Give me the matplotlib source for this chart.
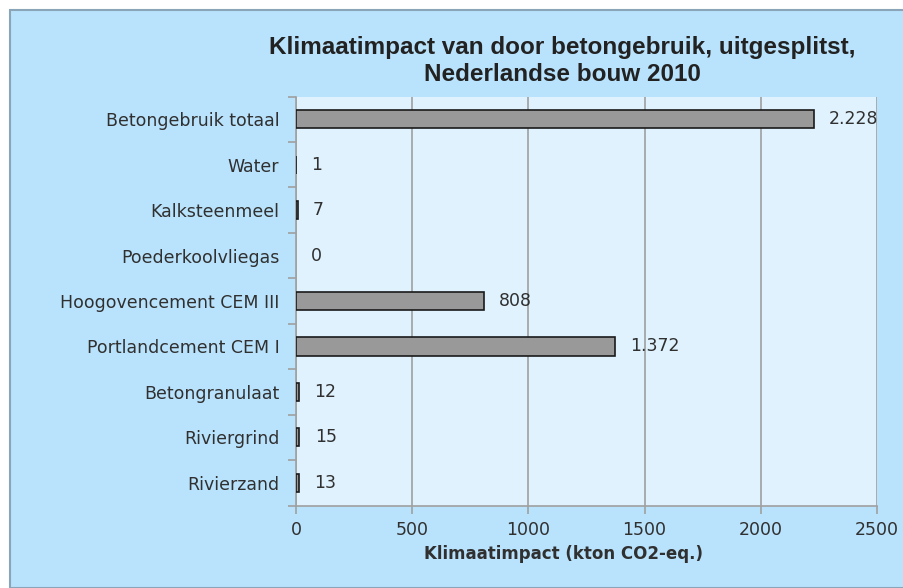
import numpy as np
import matplotlib.pyplot as plt
from matplotlib.patches import Rectangle
from matplotlib.ticker import FixedLocator

categories = ['Betongebruik totaal', 'Water', 'Kalksteenmeel', 'Poederkoolvliegas',
              'Hoogovencement CEM III', 'Portlandcement CEM I', 'Betongranulaat',
              'Riviergrind', 'Rivierzand']
values = [2228, 1, 7, 0, 808, 1372, 12, 15, 13]
xticks = [0, 500, 1000, 1500, 2000, 2500]

title = 'Klimaatimpact van door betongebruik, uitgesplitst,\nNederlandse bouw 2010'
xlabel = 'Klimaatimpact (kton CO2-eq.)'

frame_bg = '#B9E3FC'
plot_bg = '#E0F2FE'
grid_col = '#A0A0A0'
txt_col = '#303030'

fig = plt.figure(figsize=(9.04, 5.88), dpi=100)
fig.patch.set_facecolor('white')

# outer chart frame
W, H = 904, 588
fig.patches.append(Rectangle((10 / W, 0), 1.0, 1 - 10 / H, transform=fig.transFigure,
                             facecolor=frame_bg, edgecolor='#8AA4B8', linewidth=1.5,
                             zorder=-5))

ax = fig.add_axes([296 / W, 1 - 505.5 / H, (877 - 296) / W, (505.5 - 96.5) / H])
ax.set_zorder(2)
ax.set_facecolor(plot_bg)

y = np.arange(len(categories))
bars = ax.barh(y, values, height=0.4, color='#999999', edgecolor='#1a1a1a', linewidth=1.2,
               zorder=3)
for b, v in zip(bars, values):
    if v == 0:
        b.set_visible(False)

ax.set_xlim(0, 2500)
ax.set_ylim(len(categories) - 0.5, -0.5)
ax.xaxis.set_major_locator(FixedLocator(xticks))
ax.set_xticklabels([str(t) for t in xticks])
ax.set_yticks(y)
ax.set_yticklabels(categories)
ax.set_yticks(np.arange(len(categories) + 1) - 0.5, minor=True)

ax.grid(axis='x', color=grid_col, linewidth=1.2, zorder=1)
ax.tick_params(axis='y', which='major', length=0, pad=12, labelsize=12.5, labelcolor=txt_col)
ax.tick_params(axis='y', which='minor', length=6, color=grid_col, width=1.2)
ax.tick_params(axis='x', length=6, color=grid_col, width=1.2, pad=5, labelsize=12.5,
               labelcolor=txt_col)

for s in ['top', 'right']:
    ax.spines[s].set_visible(False)
for s in ['left', 'bottom']:
    ax.spines[s].set_color(grid_col)
    ax.spines[s].set_linewidth(1.2)

for yi, v in zip(y, values):
    lab = f'{v:,}'.replace(',', '.')
    ax.annotate(lab, (v, yi), xytext=(11, 0), textcoords='offset points',
                va='center', ha='left', fontsize=12.5, color=txt_col, zorder=4,
                annotation_clip=False)

ax.set_xlabel(xlabel, fontsize=12, fontweight='bold', color=txt_col)
ax.xaxis.set_label_coords(0.46, -0.097)
fig.text(562 / W, 1 - 61 / H, title, ha='center', va='center', fontsize=17.5,
         fontweight='bold', family='Liberation Sans', color='#222222', linespacing=1.2)

fig.savefig('out.png', dpi=100, facecolor=fig.get_facecolor())
